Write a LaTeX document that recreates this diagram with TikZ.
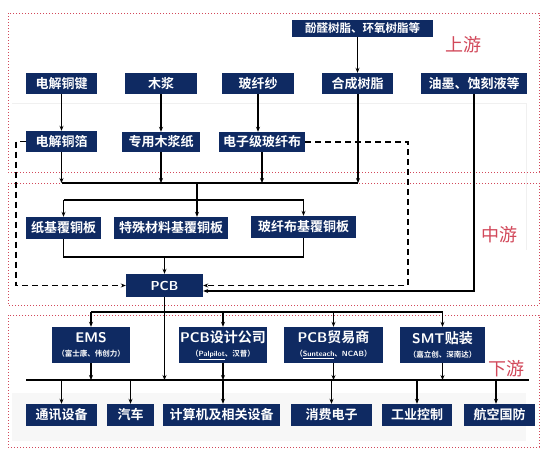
\documentclass[tikz,border=0pt]{standalone}
\usepackage{fontspec}
\usetikzlibrary{arrows.meta}
\newfontfamily\cjk{Noto Sans CJK SC}
\newfontfamily\cjkb{Noto Sans CJK SC Bold}
\definecolor{navy}{HTML}{0F2A62}
\definecolor{regred}{HTML}{D2485A}
\newcommand{\subf}{\cjkb\fontsize{7.5}{8}\selectfont}
\newcommand{\titf}{\fontsize{14}{15}\selectfont}
\tikzset{
  box/.style={fill=navy, text=white, inner sep=0pt, font=\cjkb\fontsize{13}{15}\selectfont},
  region/.style={draw=regred, line width=1pt, dotted},
  lab/.style={text=regred, font=\cjk\fontsize{18}{20}\selectfont},
  conn/.style={draw=black, line width=1.1pt},
  arr/.style={conn, -{Stealth[length=5pt,width=4pt]}},
  dsh/.style={conn, dash pattern=on 6pt off 4pt},
}
\newcommand{\bx}[6]{\node[box, minimum width=#4pt, minimum height=#5pt] (#1) at (#2,#3) {#6};}
\begin{document}
\begin{tikzpicture}[x=1pt,y=-1pt]
\useasboundingbox (0,0) rectangle (552,461);
\fill[white] (0,0) rectangle (552,461);
% faint panels
\fill[black!3] (12,393) rectangle (526,441);
\draw[black!6] (12,103) -- (526,103) -- (526,250);
% regions
\draw[region] (8,13) rectangle (539,172);
\draw[region] (8,183) rectangle (539,305);
\draw[region] (8,315) rectangle (539,447);
\node[lab] (ls) at (463,45) {上游};
\node[lab] (lm) at (499,235) {中游};
\node[lab] (lx) at (506,369) {下游};
% upstream
\bx{phen}{362.5}{28.5}{141}{17}{\fontsize{11.5}{12}\selectfont 酚醛树脂、环氧树脂等}
\bx{djtj}{61.5}{83.5}{71}{21}{电解铜键}
\bx{mj}{161}{83.5}{72}{21}{木浆}
\bx{bxs}{258}{83.5}{72}{21}{玻纤纱}
\bx{hcsz}{357.5}{83.5}{71}{21}{合成树脂}
\bx{ym}{474}{83.5}{106}{21}{油墨、蚀刻液等}
\bx{djtb}{61.5}{141.5}{71}{21}{电解铜箔}
\bx{zymjz}{161}{142}{78}{20}{专用木浆纸}
\bx{dz}{262}{142}{86}{20}{电子级玻纤布}
% midstream
\bx{zj}{63.5}{228}{75}{22}{纸基覆铜板}
\bx{ts}{171}{228}{114}{22}{特殊材料基覆铜板}
\bx{bxb}{303.5}{227}{105}{22}{玻纤布基覆铜板}
\bx{pcb}{164.5}{285.5}{77}{23}{\sffamily\bfseries PCB}
% downstream
\node[box, minimum width=78pt, minimum height=36pt, align=center] (ems) at (91,345) {{\titf\sffamily\bfseries EMS}\\[-1pt]{\subf（富士康、伟创力）}};
\node[box, minimum width=88pt, minimum height=36pt, align=center] (sj) at (223,345) {{\titf{\sffamily\bfseries PCB}设计公司}\\[-1pt]{\subf（{\sffamily\bfseries\underline{Palpilot}}、汉普）}};
\node[box, minimum width=99pt, minimum height=36pt, align=center] (my) at (333.5,345) {{\titf{\sffamily\bfseries PCB}贸易商}\\[-1pt]{\subf（{\sffamily\bfseries\underline{Sunteach}}、{\sffamily\bfseries NCAB}）}};
\node[box, minimum width=85pt, minimum height=36pt, align=center] (smt) at (442.5,345) {{\titf{\sffamily\bfseries SMT}贴装}\\[-1pt]{\subf（嘉立创、深南达）}};
\bx{tx}{61.5}{415}{71}{22}{通讯设备}
\bx{qc}{130.5}{415}{47}{22}{汽车}
\bx{jsj}{221.5}{415}{117}{22}{计算机及相关设备}
\bx{xf}{331.5}{415}{81}{22}{消费电子}
\bx{gy}{417}{415}{70}{22}{工业控制}
\bx{hk}{499.5}{415}{71}{22}{航空国防}
% coordinates
\coordinate (b1l) at (61.5,183);
\coordinate (b1r) at (358,183);
\coordinate (b1m) at (197,183);
\coordinate (b2l) at (63.5,200);
\coordinate (b2r) at (303.5,200);
\coordinate (b3l) at (63.5,257);
\coordinate (b3r) at (303.5,257);
\coordinate (b4l) at (91,312);
\coordinate (b4r) at (442.5,312);
\coordinate (b5l) at (26,380);
\coordinate (b5r) at (529,380);
\coordinate (dl) at (16,141.5);
\coordinate (dr) at (408,142);
\coordinate (ymc) at (474,291);
\coordinate (jsa) at (223,380);
\coordinate (hka) at (496,380);
% upstream connectors
\draw[arr] (djtj) -- (djtb);
\draw[arr] (mj) -- (zymjz);
\draw[arr] (bxs.south) -- (bxs.south |- dz.north);
\draw[arr] (phen.south -| hcsz.north) -- (hcsz.north);
\draw[arr] (djtb.south) -- (djtb.south |- b1l);
\draw[arr] (zymjz.south) -- (zymjz.south |- b1l);
\draw[arr] (dz.south) -- (dz.south |- b1l);
\draw[arr] (hcsz.south -| b1r) -- (b1r);
\draw[conn] (b1l) -- (b1r);
% midstream connectors
\draw[conn] (b1m) -- (b1m |- b2l);
\draw[conn] (b2l) -- (b2r);
\draw[arr] (b1m |- b2l) -- (b1m |- ts.north);
\draw[arr] (b2l) -- (zj.north);
\draw[arr] (b2r) -- (bxb.north);
\draw[conn] (zj.south) -- (b3l) -- (b3r) -- (bxb.south);
\draw[arr] (pcb.north |- b3l) -- (pcb.north);
\draw[dsh, -{Stealth[length=5pt,width=4pt]}] (djtb.west) -- (dl) -- (dl |- pcb.west) -- (pcb.west);
\draw[dsh, -{Stealth[length=5pt,width=4pt]}] (dz.east) -- (dr) -- (dr |- pcb.east) -- (pcb.east);
\draw[arr] (ym.south) -- (ymc) -- (pcb.east |- ymc);
% downstream connectors
\draw[conn] (b4l) -- (b4r);
\draw[arr] (pcb.south) -- (pcb.south |- b5l);
\draw[arr] (b4l) -- (ems.north);
\draw[arr] (sj.north |- b4l) -- (sj.north);
\draw[arr] (my.north |- b4l) -- (my.north);
\draw[arr] (b4r) -- (smt.north);
\draw[conn, line width=1.5pt] (b5l) -- (b5r);
\draw[arr] (ems.south) -- (ems.south |- b5l);
\draw[arr] (sj.south) -- (sj.south |- b5l);
\draw[arr] (my.south) -- (my.south |- b5l);
\draw[arr] (smt.south) -- (smt.south |- b5l);
\draw[arr] (tx.north |- b5l) -- (tx.north);
\draw[arr] (qc.north |- b5l) -- (qc.north);
\draw[arr] (jsa) -- (jsa |- jsj.north);
\draw[arr] (xf.north |- b5l) -- (xf.north);
\draw[arr] (gy.north |- b5l) -- (gy.north);
\draw[arr] (hka) -- (hka |- hk.north);
\end{tikzpicture}
\end{document}
